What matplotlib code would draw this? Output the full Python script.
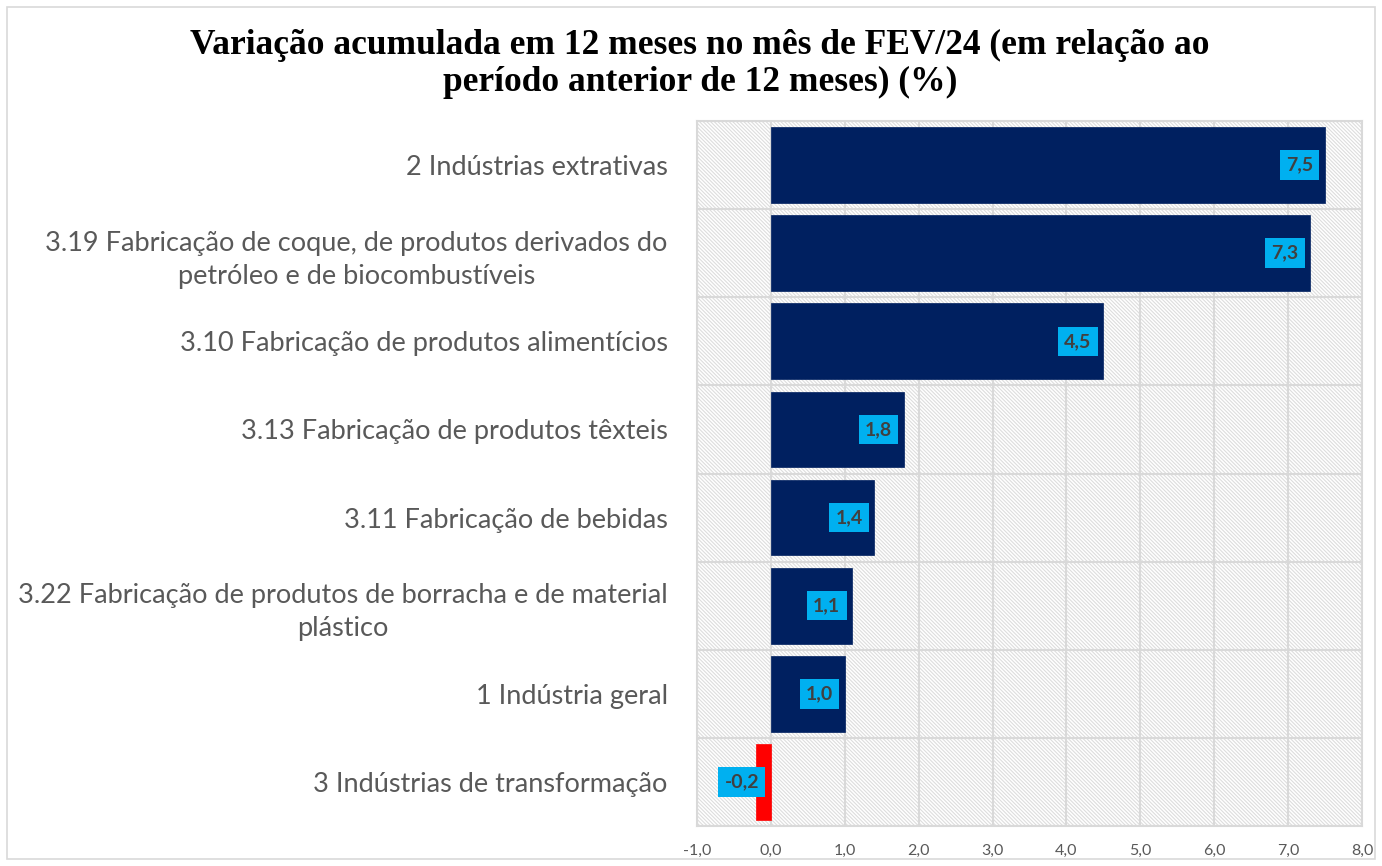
import matplotlib
matplotlib.use("Agg")
import matplotlib.pyplot as plt
from matplotlib.patches import Rectangle
from matplotlib.ticker import FixedLocator, FuncFormatter

categories = [
    "2 Indústrias extrativas",
    "3.19 Fabricação de coque, de produtos derivados do\npetróleo e de biocombustíveis",
    "3.10 Fabricação de produtos alimentícios",
    "3.13 Fabricação de produtos têxteis",
    "3.11 Fabricação de bebidas",
    "3.22 Fabricação de produtos de borracha e de material\nplástico",
    "1 Indústria geral",
    "3 Indústrias de transformação",
]
values = [7.5, 7.3, 4.5, 1.8, 1.4, 1.1, 1.0, -0.2]
x_ticks = [-1, 0, 1, 2, 3, 4, 5, 6, 7, 8]
title = "Variação acumulada em 12 meses no mês de FEV/24 (em relação ao\nperíodo anterior de 12 meses) (%)"

NAVY = "#002060"
RED = "#FF0000"
GRID = "#D9D9D9"
TXT = "#595959"

plt.rcParams["hatch.color"] = "#DDDDDD"
plt.rcParams["hatch.linewidth"] = 0.8

fig = plt.figure(figsize=(13.82, 8.66), dpi=100)
fig.patch.set_facecolor("white")
fig.add_artist(Rectangle((7 / 1382, 7 / 866), 1368 / 1382, 852 / 866,
                         transform=fig.transFigure, fill=False,
                         edgecolor=GRID, linewidth=1.2))

ax = fig.add_axes([697 / 1382, 1 - 826 / 866, (1362 - 697) / 1382, (826 - 121) / 866])
ax.patch.set_facecolor("white")
ax.add_patch(Rectangle((0, 0), 1, 1, transform=ax.transAxes, facecolor="white",
                       edgecolor="#DDDDDD", hatch="\\" * 9, linewidth=0, zorder=0))

y = list(range(len(categories)))
colors = [NAVY if v >= 0 else RED for v in values]
ax.barh(y, values, height=0.86, color=colors, edgecolor=colors, linewidth=0.5, zorder=3)

ax.set_xlim(-1, 8)
ax.set_ylim(len(categories) - 0.5, -0.5)
ax.xaxis.set_major_locator(FixedLocator(x_ticks))
ax.xaxis.set_major_formatter(FuncFormatter(lambda v, p: f"{v:.1f}".replace(".", ",")))
ax.set_yticks(y)
ax.set_yticklabels(categories, fontsize=19.5, color=TXT, family="Lato",
                   multialignment="center", linespacing=1.4)
ax.yaxis.set_minor_locator(FixedLocator([i + 0.5 for i in range(-1, len(categories))]))
ax.tick_params(axis="y", which="both", length=0, pad=21)
ax.tick_params(axis="x", length=0, pad=13, labelsize=11.5, labelcolor=TXT)
for lab in ax.get_xticklabels():
    lab.set_family("Lato")

ax.grid(axis="x", which="major", color=GRID, linewidth=1.5, zorder=1)
ax.grid(axis="y", which="minor", color=GRID, linewidth=1.5, zorder=1)
ax.set_axisbelow(True)
for s in ax.spines.values():
    s.set_color(GRID)
    s.set_linewidth(1.5)

for yi, v in zip(y, values):
    anchor = v if v > 0 else 0
    ax.annotate(f"{v:.1f}".replace(".", ","), xy=(anchor, yi), xytext=(-8.5, 0),
                textcoords="offset points", ha="right", va="center",
                fontsize=14, fontweight="bold", color="#404040", family="Lato",
                bbox=dict(boxstyle="square,pad=0.32", facecolor="#00B0F0",
                          edgecolor="none"), zorder=5)

fig.text(700 / 1382, 1 - 64 / 866, title, ha="center", va="center",
         fontsize=25.5, fontweight="bold", family="Liberation Serif",
         color="black", linespacing=1.12)

fig.savefig("out.png", dpi=100)
